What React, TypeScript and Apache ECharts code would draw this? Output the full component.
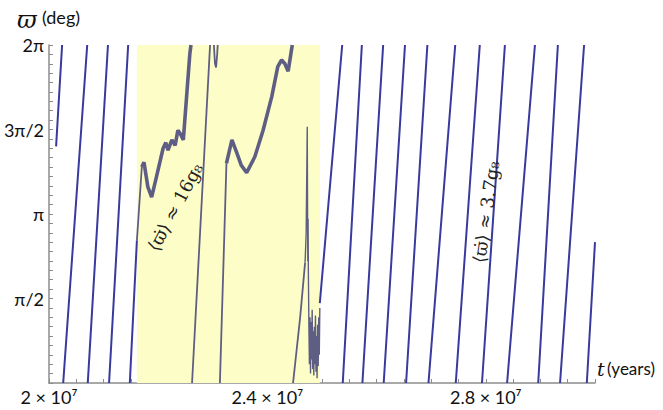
import React, { useEffect, useRef } from "react";
import * as echarts from "echarts";

type Pt = [number, number];

// t in units of 10^6 years, ϖ in degrees (0..360)
const blueSegments: Pt[][] = [
  [[20.13, 252], [20.24, 360]],
  [[20.26, 0], [20.7, 360]],
  [[20.71, 0], [21.08, 360]],
  [[21.1, 0], [21.45, 360]],
  [[21.48, 0], [21.61, 152]],
  [[24.96, 85], [25.37, 360]],
  [[25.38, 0], [25.73, 360]],
  [[25.74, 0], [26.12, 360]],
  [[26.13, 0], [26.52, 360]],
  [[26.54, 0], [26.93, 360]],
  [[26.95, 0], [27.44, 360]],
  [[27.45, 0], [27.89, 360]],
  [[27.93, 0], [28.35, 360]],
  [[28.39, 0], [28.9, 360]],
  [[28.96, 0], [29.32, 360]],
  [[29.36, 0], [29.8, 360]],
  [[29.85, 0], [30.0, 150]],
];

const grayThinSegments: Pt[][] = [
  [[21.61, 152], [21.7, 230]],
  [[22.62, 0], [22.95, 360]],
  [[23.02, 360], [23.04, 340], [23.06, 336], [23.08, 350], [23.09, 360]],
  [[23.13, 0], [23.25, 234]],
  [[24.47, 0], [24.6, 70], [24.69, 128]],
];

const grayThickSegments: Pt[][] = [
  [[21.7, 230], [21.74, 235], [21.81, 209], [21.88, 198], [21.97, 220], [22.09, 250], [22.14, 256], [22.18, 248],
   [22.25, 259], [22.31, 253], [22.36, 269], [22.4, 266], [22.46, 259], [22.52, 305], [22.58, 351], [22.6, 360]],
  [[23.25, 234], [23.35, 259], [23.44, 245], [23.52, 232], [23.62, 224], [23.77, 241], [23.92, 269], [24.08, 305],
   [24.19, 337], [24.26, 344], [24.32, 340], [24.38, 332], [24.45, 358], [24.455, 360]],
];

const grayNoiseSegments: Pt[][] = [
  [[24.69, 128], [24.71, 160], [24.73, 273], [24.735, 190], [24.74, 130], [24.745, 175], [24.75, 120], [24.76, 60],
   [24.77, 20], [24.78, 70], [24.79, 10], [24.8, 65], [24.81, 25], [24.82, 78], [24.83, 15], [24.84, 55], [24.85, 8],
   [24.86, 60], [24.87, 20], [24.88, 72], [24.89, 12], [24.9, 50], [24.91, 5], [24.92, 62], [24.93, 18], [24.94, 70],
   [24.95, 30], [24.96, 80]],
];

const highlightRange: [number, number] = [21.61, 24.96];

const xTickLabels: Record<number, string> = { 20: "2 × 10⁷", 24: "2.4 × 10⁷", 28: "2.8 × 10⁷" };
const yTickLabels: Record<number, string> = { 90: "π/2", 180: "π", 270: "3π/2", 360: "2π" };

const annotationLeft = "⟨ϖ̇⟩ ≈ 16g₈";
const annotationRight = "⟨ϖ̇⟩ ≈ 3.7g₈";

function joinSegments(segs: Pt[][]) {
  const out: any[] = [];
  segs.forEach((s, i) => {
    if (i > 0) out.push([s[0][0], "-"]);
    out.push(...s);
  });
  return out;
}

const BLUE = "#3a3a9e";
const GRAY = "#5e5e84";
const AXIS = "#8c8c8c";
const SANS = "Lato, 'Open Sans', sans-serif";
const SERIF = "'DejaVu Serif', 'Liberation Serif', serif";

export default function App() {
  const ref = useRef<HTMLDivElement>(null);
  useEffect(() => {
    if (!ref.current) return;
    const chart = echarts.init(ref.current, undefined, { renderer: "svg" });
    const lineBase = {
      type: "line",
      showSymbol: false,
      symbol: "none",
      connectNulls: false,
      silent: true,
    };
    chart.setOption({
      animation: false,
      backgroundColor: "#ffffff",
      grid: { left: 49, right: 68, top: 45, bottom: 27 },
      xAxis: {
        type: "value",
        min: 20,
        max: 30,
        interval: 0.5,
        axisLine: { show: true, onZero: false, lineStyle: { color: AXIS, width: 1.5 } },
        axisTick: { show: true, inside: true, length: 4, lineStyle: { color: AXIS } },
        splitLine: { show: false },
        axisLabel: {
          margin: 5,
          fontSize: 18,
          fontFamily: SANS,
          color: "#111",
          formatter: (v: number) => xTickLabels[Math.round(v * 10) / 10] ?? "",
        },
      },
      yAxis: {
        type: "value",
        min: 0,
        max: 360,
        interval: 10,
        axisLine: { show: true, lineStyle: { color: AXIS, width: 1.5 } },
        axisTick: { show: true, inside: true, length: 4, lineStyle: { color: AXIS } },
        splitLine: { show: false },
        axisLabel: {
          margin: 5,
          fontSize: 18,
          fontFamily: SANS,
          color: "#111",
          formatter: (v: number) => yTickLabels[Math.round(v)] ?? "",
        },
      },
      graphic: [
        { type: "text", z: 100, x: 17, y: 8, style: { text: "ϖ", font: "italic 24px " + SERIF, fill: "#111" } },
        { type: "text", z: 100, x: 42, y: 8, style: { text: "(deg)", font: "18px " + SANS, fill: "#111" } },
        { type: "text", z: 100, x: 597, y: 359, style: { text: "t", font: "italic 19px " + SERIF, fill: "#111" } },
        { type: "text", z: 100, x: 607, y: 360, style: { text: "(years)", font: "17px " + SANS, fill: "#111" } },
        {
          type: "text",
          z: 100,
          x: 175,
          y: 207,
          rotation: (62 * Math.PI) / 180,
          style: { text: annotationLeft, font: "18px " + SERIF, fill: "#222", align: "center", verticalAlign: "middle" },
        },
        {
          type: "text",
          z: 100,
          x: 486,
          y: 212,
          rotation: (82 * Math.PI) / 180,
          style: { text: annotationRight, font: "18px " + SERIF, fill: "#222", align: "center", verticalAlign: "middle" },
        },
      ],
      series: [
        {
          ...lineBase,
          name: "blue",
          z: 3,
          data: joinSegments(blueSegments),
          lineStyle: { color: BLUE, width: 2 },
          markArea: {
            silent: true,
            itemStyle: { color: "#fdfdc8", opacity: 1 },
            data: [[{ xAxis: highlightRange[0] }, { xAxis: highlightRange[1] }]],
          },
        },
        { ...lineBase, name: "grayThin", z: 4, data: joinSegments(grayThinSegments), lineStyle: { color: GRAY, width: 1.8 } },
        { ...lineBase, name: "grayThick", z: 4, data: joinSegments(grayThickSegments), lineStyle: { color: GRAY, width: 3.6 } },
        { ...lineBase, name: "grayNoise", z: 4, data: joinSegments(grayNoiseSegments), lineStyle: { color: GRAY, width: 1.4 } },
      ],
    });
    return () => chart.dispose();
  }, []);
  return <div ref={ref} style={{ position: "absolute", left: 0, top: 0, width: 663, height: 410 }} />;
}
